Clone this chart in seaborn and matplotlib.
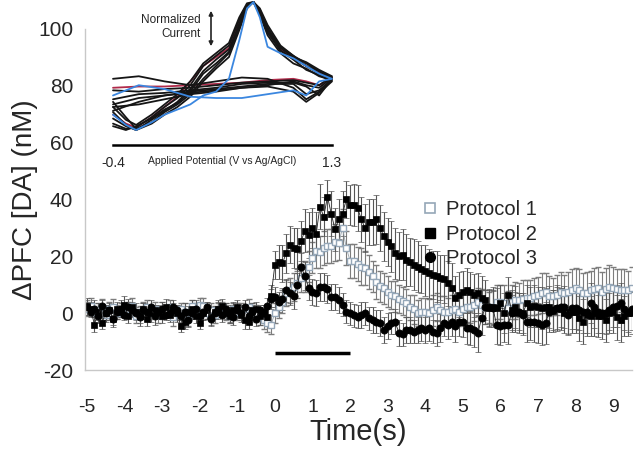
import numpy as np
import pandas as pd
import matplotlib
matplotlib.use("Agg")
import matplotlib.pyplot as plt
import seaborn as sns

# ---- main trace data: time in s, 0.1 s sampling, -5.0 .. 9.5 ----
time_s = np.round(np.arange(-5.0, 9.55, 0.1), 1)
xtick_vals = [-5, -4, -3, -2, -1, 0, 1, 2, 3, 4, 5, 6, 7, 8, 9]
ytick_vals = [-20, 0, 20, 40, 60, 80, 100]
labels = ["Protocol 1", "Protocol 2", "Protocol 3"]

protocol1 = [
    1.5, 2.5, 0.5, 1.0, 2.0, -0.5, 1.5, 2.0, 0.0, 1.0,
    0.5, 1.5, 2.5, -1.0, 0.5, 1.0, 2.0, 0.0, 1.5, -0.5,
    1.0, 0.5, 2.0, -1.5, 0.0, 1.5, 0.5, -2.0, 2.5, 1.0,
    3.0, 2.5, 0.0, 1.0, -0.5, 1.0, 2.0, 0.5, -1.0, 1.5,
    0.5, 1.0, -0.5, 2.0, 1.0, 0.0, -1.5, -2.5, -3.5, -4.0,
    0.0, 2.2, 4.0, 7.0, 8.0, 9.3, 10.5, 12.3, 13.0, 16.3,
    19.5, 22.0, 21.5, 23.0, 23.5, 23.7, 25.0, 24.6, 30.0, 23.0,
    18.5, 18.3, 17.3, 16.3, 16.0, 14.5, 13.0, 11.0, 9.5, 8.8,
    7.5, 6.3, 5.9, 5.0, 4.2, 3.5, 2.0, 1.3, 0.0, 0.5,
    0.5, 0.0, 1.0, 2.2, 1.0, 0.5, 0.5, 1.0, 1.5, 0.5,
    1.5, 2.0, 2.2, 2.8, 4.0, 3.0, 2.2, 2.0, 2.2, 4.0,
    3.8, 3.5, 1.8, 4.0, 4.6, 4.6, 5.0, 5.3, 5.5, 5.9,
    6.3, 7.0, 7.5, 6.0, 6.0, 6.5, 7.5, 7.0, 7.5, 8.0,
    8.8, 8.0, 7.0, 7.0, 8.0, 8.5, 8.8, 7.5, 8.5, 9.3,
    8.8, 8.5, 8.0, 8.0, 8.0, 8.8,
]
protocol2 = [
    2.5, 1.5, -4.0, 0.5, -3.5, 0.0, 1.0, -2.0, 1.5, 0.5,
    3.0, -1.0, 2.0, 0.5, -1.0, 1.5, -2.0, 0.0, 1.0, 0.5,
    -1.0, 2.0, -0.5, 1.0, 0.0, -4.5, -3.0, 0.5, 1.5, -1.0,
    -3.5, 0.0, 1.0, -1.5, 0.5, 1.5, 2.5, 0.0, -1.0, 1.0,
    2.0, -0.5, -2.5, -3.0, 1.0, 1.5, -1.0, 0.5, -1.5, 6.0,
    17.0, 18.0, 17.5, 21.0, 24.0, 23.0, 22.5, 25.5, 29.0, 27.5,
    30.0, 28.0, 37.5, 34.0, 41.0, 35.0, 29.5, 33.0, 35.0, 40.0,
    38.0, 38.0, 37.0, 33.0, 30.0, 32.0, 32.0, 33.0, 30.0, 27.0,
    25.0, 23.5, 21.0, 20.0, 20.5, 18.7, 18.0, 17.0, 16.4, 15.5,
    15.0, 14.0, 13.5, 13.0, 12.5, 12.0, 10.5, 9.0, 5.5, 6.5,
    7.5, 8.0, 7.5, 6.3, 7.0, 5.5, 4.6, 1.8, 2.2, 1.8,
    3.5, 0.0, 6.3, 1.0, 2.2, 0.0, 0.0, 3.5, 2.2, 2.5,
    2.2, 1.8, 2.0, 2.2, 0.7, 1.8, 1.5, 0.0, 0.5, 0.5,
    0.5, -1.8, -3.0, -0.5, -1.0, 0.0, -1.0, -1.0, -2.5, 0.0,
    0.5, -1.5, -2.5, -1.0, 0.0, 0.0,
]
protocol3 = [
    2.0, 0.5, 1.5, -1.0, 2.5, 0.0, 1.0, -2.0, 0.5, 1.5,
    -0.5, 2.0, 1.0, 0.0, -1.5, 1.0, 0.5, 2.0, -1.0, 0.5,
    1.5, -0.5, 0.0, 2.0, 1.0, -1.0, 0.5, -2.5, 0.0, 1.5,
    -1.0, 0.5, 2.0, -2.0, 0.0, 1.0, -0.5, 1.5, 0.0, -1.5,
    1.0, 0.0, 2.0, -1.0, 0.5, -2.0, 1.0, 0.0, 2.5, 5.0,
    5.7, 4.0, 5.0, 8.0, 7.0, 6.0, 9.8, 16.3, 13.0, 9.0,
    7.5, 7.0, 9.3, 9.3, 8.5, 5.7, 5.7, 4.6, 3.0, 0.5,
    0.0, -0.7, -1.3, -0.7, 0.0, -1.8, -2.5, -3.0, -3.5, -6.0,
    -4.6, -3.5, -3.0, -7.0, -7.5, -6.0, -6.0, -6.5, -6.0, -5.3,
    -6.0, -5.3, -6.5, -7.0, -5.3, -3.5, -4.0, -3.0, -4.6, -3.0,
    -3.0, -5.3, -5.3, -6.0, -7.0, -1.8, 2.2, 2.0, 1.8, -4.2,
    -4.6, -4.2, -4.2, 0.0, 0.5, 0.5, -0.7, -3.0, -3.0, -3.0,
    -3.5, -4.2, -3.5, 0.5, 1.0, 1.8, 2.0, 2.2, -0.7, 1.8,
    1.8, 1.0, 0.5, 0.5, 3.5, 2.2, 0.5, 0.0, 0.0, 1.0,
    2.2, 2.5, 3.5, 1.5, 0.5, 1.5,
]

sem1 = [
    2.5, 3, 2, 2.5, 3, 2, 2.5, 3, 2, 2.5,
    2, 2.5, 3, 2.5, 2, 3, 2.5, 2, 2.5, 3,
    3, 2, 2.5, 3, 2.5, 2, 3, 2.5, 2, 2.5,
    2.5, 3, 2, 2.5, 3, 2.5, 2, 3, 2.5, 2,
    3, 2.5, 2, 3, 2.5, 3, 2.5, 3, 3, 3.5,
    3.5, 4, 4, 4.5, 4.5, 5, 5, 5, 5.5, 5.5,
    5.5, 6, 5.5, 6, 6, 6, 6.5, 6, 6.5, 6,
    6, 6, 6, 6.5, 6, 6, 5.5, 6, 5.5, 5.5,
    5.5, 5, 5.5, 5, 5, 5, 4.5, 5, 4.5, 5,
    5, 5, 5.5, 5, 5, 5.5, 5, 5.5, 5, 5,
    5.5, 5, 5.5, 5.5, 5, 5.5, 6, 5.5, 6, 6,
    6, 6.5, 6, 6, 6.5, 6, 6.5, 6.5, 6, 6.5,
    6.5, 7, 6.5, 7, 6.5, 7, 7, 6.5, 7, 7.5,
    7, 7.5, 7, 7.5, 7, 7.5, 7.5, 7, 7.5, 7.5,
    7.5, 7, 7.5, 7.5, 7, 7.5,
]
sem2 = [
    3, 2.5, 2.5, 3, 2, 2.5, 2, 3, 2.5, 2,
    3, 2.5, 2, 3, 2.5, 2, 2.5, 3, 2, 2.5,
    2.5, 3, 2, 2.5, 3, 2, 2.5, 2, 3, 2.5,
    2, 2.5, 3, 2.5, 2, 3, 2.5, 2, 2.5, 3,
    2.5, 2, 3, 2.5, 2, 2.5, 3, 2.5, 3, 4,
    5, 6, 6.5, 7, 6.5, 7, 7.5, 7, 7.5, 8,
    7, 7.5, 8, 7, 6, 8, 7.5, 7, 8, 6.5,
    7, 7.5, 8, 8, 8.5, 8, 8, 8.5, 8, 8.5,
    8.5, 9, 9, 8.5, 9, 9, 8.5, 9, 9, 8.5,
    9, 8.5, 8.5, 9, 8, 8.5, 8, 8.5, 7.5, 8,
    7.5, 8, 7, 7.5, 7, 7.5, 7, 6.5, 7, 7,
    6.5, 7, 6.5, 7, 7.5, 7, 7, 6.5, 7, 7.5,
    7, 7.5, 7, 7.5, 7.5, 8, 7.5, 7, 8, 7.5,
    7.5, 8, 8, 7.5, 7, 8, 7.5, 8, 7.5, 7,
    7.5, 8, 7.5, 7, 8, 7.5,
]
sem3 = [
    2.5, 2, 3, 2.5, 2, 3, 2.5, 2, 2.5, 3,
    2, 3, 2.5, 2, 3, 2.5, 2, 2.5, 3, 2,
    2.5, 2, 3, 2.5, 2, 2.5, 3, 2.5, 2, 3,
    2.5, 3, 2, 2.5, 2, 3, 2.5, 2, 3, 2.5,
    2, 3, 2.5, 2, 3, 2.5, 2, 3, 3, 3.5,
    3.5, 3.5, 4, 4, 4, 4.5, 4.5, 5, 5, 4.5,
    4.5, 4.5, 5, 5, 5, 4.5, 4.5, 4.5, 4, 4,
    4, 4, 4, 4.5, 4, 4, 4.5, 4, 4.5, 4.5,
    4.5, 4, 4.5, 4.5, 4, 4.5, 4.5, 4, 4.5, 4.5,
    4.5, 4.5, 4, 4.5, 5, 4.5, 5, 5, 5.5, 5,
    5.5, 5.5, 6, 6, 6.5, 6, 6, 6.5, 6, 6.5,
    6.5, 6, 6.5, 6.5, 7, 6.5, 7, 7, 6.5, 7,
    7, 7, 7.5, 7, 7, 7.5, 7, 7.5, 7, 7.5,
    7.5, 7, 7.5, 7.5, 7, 7.5, 7.5, 7, 7.5, 7,
    7, 7.5, 7, 7.5, 7, 7.5,
]

stim_window = [0, 2]
stim_level = -14

# ---- inset: background-subtracted cyclic voltammograms ----
cv_potential = [-0.4, -0.3, -0.22, -0.1, 0.0, 0.1, 0.2, 0.3, 0.4, 0.5,
                0.58, 0.64, 0.69, 0.74, 0.8, 0.9, 1.0, 1.1, 1.2, 1.3,
                1.3, 1.2, 1.1, 1.0, 0.8, 0.6, 0.4, 0.2, 0.0, -0.2, -0.4]
cv_black1 = [14, 4, 0, 8, 15, 22, 32, 46, 55, 63, 82, 97, 100, 93, 78, 62, 56, 50, 46, 40,
             40, 27, 34, 37, 37, 36, 33, 31, 29, 28, 24]
cv_black2 = [22, 10, 1, 6, 14, 20, 28, 40, 50, 60, 80, 96, 100, 90, 74, 60, 52, 48, 42, 39,
             39, 30, 24, 33, 40, 41, 38, 35, 38, 42, 40]
cv_black3 = [5, 1, 2, 10, 18, 25, 35, 50, 58, 66, 86, 98, 100, 95, 82, 66, 58, 52, 46, 41,
             41, 33, 35, 38, 35, 33, 30, 28, 24, 20, 18]
cv_black4 = [9, 3, 0, 5, 12, 18, 26, 38, 48, 57, 78, 95, 100, 91, 76, 62, 55, 47, 43, 38,
             38, 29, 22, 30, 34, 33, 31, 29, 27, 22, 15]
cv_black5 = [18, 8, 4, 12, 20, 28, 38, 52, 60, 68, 88, 99, 100, 94, 80, 64, 57, 53, 47, 42,
             42, 35, 37, 39, 38, 37, 35, 33, 32, 30, 31]
cv_black6 = [3, 0, 3, 9, 16, 21, 30, 44, 52, 61, 83, 97, 100, 92, 79, 65, 58, 50, 44, 40,
             40, 31, 28, 36, 36, 34, 32, 30, 27, 25, 20]
cv_red = [12, 5, 2, 10, 18, 26, 38, 50, 57, 64, 84, 97, 100, 93, 78, 63, 57, 50, 45, 41,
          41, 35, 38, 40, 39, 37, 36, 35, 34, 34, 33]
cv_blue = [12, 4, 0, 6, 12, 16, 20, 27, 30, 40, 70, 95, 100, 88, 65, 60, 56, 50, 44, 40,
           40, 38, 27, 31, 28, 25, 25, 26, 32, 35, 27]

sns.set_style("white")
plt.rcParams["font.family"] = ["Liberation Sans", "DejaVu Sans"]
plt.rcParams["axes.unicode_minus"] = False

fig = plt.figure(figsize=(6.4, 4.53), dpi=100)
ax = fig.add_axes([85 / 640, 1 - 370 / 453, 547 / 640, 341 / 453])

series = [
    (protocol1, sem1, dict(marker="s", ms=4.5, mfc="white", mec="#95a7b8", mew=1.0,
                           color="#9aa5ae", ecolor="#7d7d7d")),
    (protocol2, sem2, dict(marker="s", ms=4.7, mfc="black", mec="black", mew=0.5,
                           color="#222222", ecolor="#555555")),
    (protocol3, sem3, dict(marker="o", ms=5.2, mfc="black", mec="black", mew=0.5,
                           color="#222222", ecolor="#555555")),
]
for (vals, err, st), lab in zip(series, labels):
    ax.errorbar(time_s, vals, yerr=err, lw=0.6, elinewidth=0.8, capsize=2.2,
                capthick=0.8, label=lab, **st)

ax.hlines(stim_level, stim_window[0], stim_window[1], color="black", lw=2.5)

ax.set_xlim(-5.05, 9.5)
ax.set_ylim(-20, 100)
ax.set_xticks(xtick_vals)
ax.set_yticks(ytick_vals)
ax.tick_params(axis="x", length=0, pad=21, labelsize=14)
ax.tick_params(axis="y", length=5, width=0.8, color="#bdbdbd", labelsize=15, direction="out")
for side in ["top", "right"]:
    ax.spines[side].set_visible(False)
for side in ["left", "bottom"]:
    ax.spines[side].set_color("#c8c8c8")
    ax.spines[side].set_linewidth(1.0)
ax.set_xlabel("Time(s)", fontsize=21, labelpad=1)
ax.set_ylabel("\u0394PFC [DA] (nM)", fontsize=20, labelpad=0)

leg_handles = [
    plt.Line2D([], [], ls="", marker="s", ms=6.5, mfc="white", mec="#95a7b8", mew=1.2),
    plt.Line2D([], [], ls="", marker="s", ms=6.5, mfc="black", mec="black"),
    plt.Line2D([], [], ls="", marker="o", ms=7, mfc="black", mec="black"),
]
fig.legend(leg_handles, labels, loc="upper left", bbox_to_anchor=(423 / 640, 1 - 200 / 453),
           frameon=False, fontsize=14.5, handlelength=0.7, handletextpad=0.45,
           labelspacing=0.28, borderaxespad=0, borderpad=0)

# inset
trace_order = ["red", "b1", "b2", "b3", "b4", "b5", "b6", "blue"]
cv_df = pd.DataFrame({
    "potential": cv_potential * 8,
    "current": cv_red + cv_black1 + cv_black2 + cv_black3 + cv_black4 + cv_black5
    + cv_black6 + cv_blue,
    "trace": sum([[n] * len(cv_potential) for n in trace_order], []),
})
cv_palette = {"b1": "#151515", "b2": "#151515", "b3": "#151515", "b4": "#151515",
              "b5": "#151515", "b6": "#151515", "red": "#b02a4a", "blue": "#3b87e0"}

axi = fig.add_axes([113 / 640, 1 - 145 / 453, 219 / 640, 143 / 453])
axi.patch.set_alpha(0)
sns.lineplot(data=cv_df, x="potential", y="current", hue="trace", hue_order=trace_order,
             palette=cv_palette, sort=False, estimator=None, lw=1.3, legend=False, ax=axi)
for ln in axi.lines:
    ln.set_clip_on(False)
axi.set_xlim(-0.4, 1.3)
axi.set_ylim(-11.7, 100)
for side in ["top", "right", "left"]:
    axi.spines[side].set_visible(False)
axi.spines["bottom"].set_color("black")
axi.spines["bottom"].set_linewidth(1.8)
axi.set_xticks([-0.4, 1.3])
axi.set_xticklabels(["-0.4", "1.3"])
axi.set_yticks([])
axi.tick_params(axis="x", direction="in", length=4, width=1.8, pad=8, labelsize=10)
axi.set_xlabel("")
axi.set_ylabel("")
axi.text(0.5, -0.11, "Applied Potential (V vs Ag/AgCl)", transform=axi.transAxes,
         ha="center", va="center", fontsize=7.5)

fig.text(201 / 640, 1 - 27 / 453, "Normalized\nCurrent", ha="right", va="center",
         fontsize=8.5, multialignment="right", linespacing=1.25)
fig.patches.append(matplotlib.patches.FancyArrowPatch(
    (211 / 640, 1 - 8 / 453), (211 / 640, 1 - 49 / 453), transform=fig.transFigure,
    arrowstyle="<|-|>", mutation_scale=6, lw=1.2, color="#222222"))

fig.savefig("out.png", dpi=100)
